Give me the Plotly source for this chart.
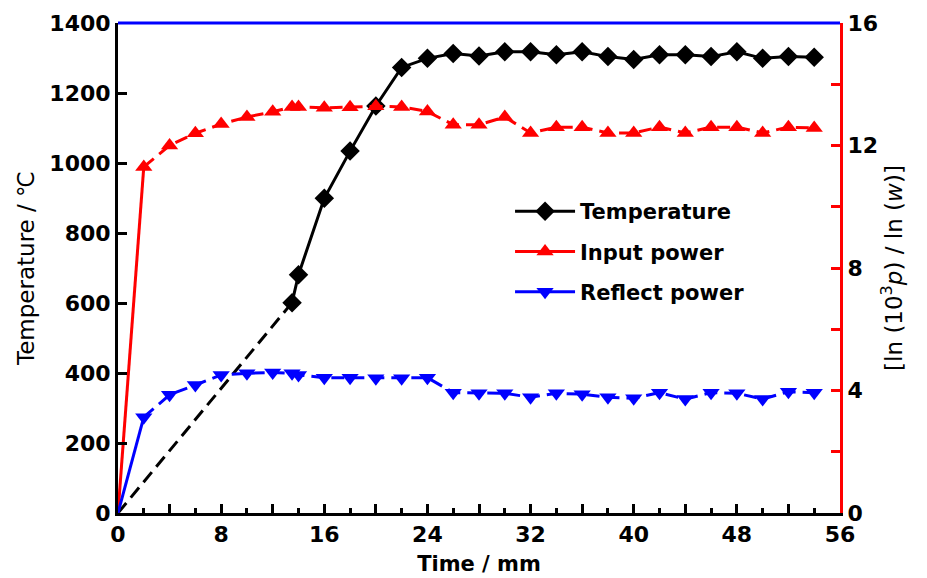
import plotly.graph_objects as go

# ---- data ----
temp_time = [13.5, 14, 16, 18, 20, 22, 24, 26, 28, 30, 32, 34, 36, 38, 40, 42, 44, 46, 48, 50, 52, 54]
temperature = [601, 681, 899, 1034, 1163, 1273, 1299, 1313, 1306, 1318, 1318, 1309, 1318, 1304, 1296,
               1309, 1309, 1304, 1318, 1299, 1304, 1302]
temp_start_time = [0, 13.5]
temp_start = [0, 601]

power_time = [2, 4, 6, 8, 10, 12, 13.5, 14, 16, 18, 20, 22, 24, 26, 28, 30, 32, 34, 36, 38, 40,
              42, 44, 46, 48, 50, 52, 54]
input_power = [11.3, 12.0, 12.4, 12.7, 12.93, 13.1, 13.26, 13.26, 13.23, 13.25, 13.28, 13.26, 13.11,
               12.68, 12.68, 12.93, 12.41, 12.6, 12.6, 12.41, 12.41, 12.6, 12.41, 12.6, 12.6, 12.41,
               12.6, 12.57]
reflect_power = [3.13, 3.86, 4.18, 4.51, 4.56, 4.59, 4.56, 4.51, 4.42, 4.42, 4.40, 4.40, 4.42, 3.93,
                 3.91, 3.91, 3.78, 3.91, 3.88, 3.78, 3.75, 3.93, 3.72, 3.93, 3.91, 3.72, 3.96, 3.93]
power_start_time = [0, 2]
input_start = [0, 11.3]
reflect_start = [0, 3.13]

x_tickvals = [0, 4, 8, 12, 16, 20, 24, 28, 32, 36, 40, 44, 48, 52, 56]
x_ticktext = ["0", " ", "8", " ", "16", " ", "24", " ", "32", " ", "40", " ", "48", " ", "56"]
y_tickvals = [0, 200, 400, 600, 800, 1000, 1200, 1400]
y2_tickvals = [0, 4, 8, 12, 16]

BLACK = "#000000"
RED = "#ff0000"
BLUE = "#0000ff"
FONT = "DejaVu Sans, Verdana, sans-serif"
DASH = "13px,7px"
MS = 15

fig = go.Figure()

# temperature
fig.add_trace(go.Scatter(x=temp_start_time, y=temp_start, mode="lines",
                         line=dict(color=BLACK, width=3, dash=DASH), showlegend=False))
fig.add_trace(go.Scatter(x=temp_time, y=temperature, mode="lines+markers", name="Temperature",
                         line=dict(color=BLACK, width=3),
                         marker=dict(symbol="diamond", size=MS, color=BLACK), legendgroup="a"))

# input power
fig.add_trace(go.Scatter(x=power_start_time, y=input_start, mode="lines", yaxis="y2",
                         line=dict(color=RED, width=3), showlegend=False))
fig.add_trace(go.Scatter(x=power_time, y=input_power, mode="lines+markers", yaxis="y2",
                         line=dict(color=RED, width=3, dash=DASH),
                         marker=dict(symbol="triangle-up", size=MS, color=RED), showlegend=False))
fig.add_trace(go.Scatter(x=[None], y=[None], mode="lines+markers", name="Input power", yaxis="y2",
                         line=dict(color=RED, width=3),
                         marker=dict(symbol="triangle-up", size=MS, color=RED), legendgroup="b"))

# reflect power
fig.add_trace(go.Scatter(x=power_start_time, y=reflect_start, mode="lines", yaxis="y2",
                         line=dict(color=BLUE, width=3), showlegend=False))
fig.add_trace(go.Scatter(x=power_time, y=reflect_power, mode="lines+markers", yaxis="y2",
                         line=dict(color=BLUE, width=3, dash=DASH),
                         marker=dict(symbol="triangle-down", size=MS, color=BLUE), showlegend=False))
fig.add_trace(go.Scatter(x=[None], y=[None], mode="lines+markers", name="Reflect power", yaxis="y2",
                         line=dict(color=BLUE, width=3),
                         marker=dict(symbol="triangle-down", size=MS, color=BLUE), legendgroup="c"))

fig.update_layout(
    width=919, height=570,
    margin=dict(l=110, r=87, t=15, b=65, autoexpand=False),
    paper_bgcolor="white", plot_bgcolor="white",
    font=dict(family=FONT, size=22, color=BLACK),
    xaxis=dict(range=[0, 56], tickvals=x_tickvals, ticktext=x_ticktext, automargin=False,
               ticks="inside", ticklen=9, tickwidth=3, tickcolor=BLACK,
               minor=dict(dtick=2, ticks="inside", ticklen=5, tickwidth=3, tickcolor=BLACK),
               showline=True, linecolor=BLACK, linewidth=3, showgrid=False, zeroline=False,
               tickfont=dict(size=22, family=FONT, weight="bold"),
               title=dict(text="<b>Time / mm</b>", font=dict(size=21), standoff=10)),
    yaxis=dict(range=[0, 1400], tickvals=y_tickvals, automargin=False,
               ticks="inside", ticklen=9, tickwidth=3, tickcolor=BLACK,
               showline=True, linecolor=BLACK, linewidth=3, showgrid=False, zeroline=False,
               tickfont=dict(size=22, family=FONT, weight="bold"),
               title=dict(text="Temperature / ℃", font=dict(size=23), standoff=9)),
    yaxis2=dict(range=[0, 16], tickvals=y2_tickvals, overlaying="y", side="right", automargin=False,
                ticks="inside", ticklen=9, tickwidth=3, tickcolor=RED,
                minor=dict(dtick=2, ticks="inside", ticklen=9, tickwidth=3, tickcolor=RED),
                showline=True, linecolor=RED, linewidth=3, showgrid=False, zeroline=False,
                tickfont=dict(size=22, family=FONT, weight="bold", color=BLACK),
                title=dict(text="[ln (10<sup>3</sup><i>p</i>) / ln (<i>w</i>)]", font=dict(size=23), standoff=9)),
    legend=dict(x=0.543, y=0.657, xanchor="left", yanchor="top", bgcolor="rgba(0,0,0,0)",
                font=dict(size=21, family=FONT, weight="bold"), traceorder="grouped",
                tracegroupgap=10, itemwidth=60),
    shapes=[dict(type="line", xref="paper", yref="paper", x0=0, x1=1, y0=1, y1=1,
                 line=dict(color=BLUE, width=3))],
)

fig.write_html("out.html")
